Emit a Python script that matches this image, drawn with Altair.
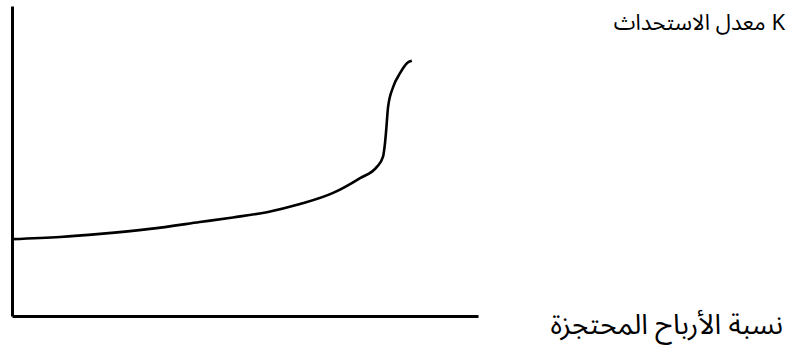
import altair as alt
import pandas as pd

# Growth rate curve: retention ratio (x) vs growth rate K (y), in axis units 0-100
retention = [0, 10.3, 18.9, 29.6, 40.3, 47.4, 54.7, 61.8, 68.9, 74.7, 78.3,
             79.6, 80.0, 80.3, 80.7, 81.8, 83.3, 84.8, 85.8]
growth = [24.8, 25.5, 26.5, 28.1, 30.3, 31.8, 33.5, 36.1, 39.7, 44.5, 48.1,
          51.3, 55.2, 60.0, 67.4, 73.9, 78.4, 81.6, 82.3]

y_label = "معدل الاستحداث K"
x_label = "نسبة الأرباح المحتجزة"

df = pd.DataFrame({"retention": retention, "growth": growth})

W, H = 466, 310
FONT = "Noto Sans Arabic"

x_scale = alt.Scale(domain=[0, 100], nice=False, zero=False)
y_scale = alt.Scale(domain=[0, 100], nice=False, zero=False)

axis_style = dict(labels=False, ticks=False, grid=False, title=None,
                  domainColor="black", domainWidth=3)

curve = alt.Chart(df).mark_line(
    color="black", strokeWidth=2.6, interpolate="monotone"
).encode(
    x=alt.X("retention:Q", scale=x_scale, axis=alt.Axis(**axis_style)),
    y=alt.Y("growth:Q", scale=y_scale, axis=alt.Axis(**axis_style)),
)

label_df = pd.DataFrame({"t": [y_label, x_label]})

top_label = alt.Chart(label_df).transform_filter(
    alt.datum.t == y_label
).mark_text(
    font=FONT, fontSize=22, align="right", baseline="middle", color="black"
).encode(
    text="t:N", x=alt.value(773), y=alt.value(17)
)

bottom_label = alt.Chart(label_df).transform_filter(
    alt.datum.t == x_label
).mark_text(
    font=FONT, fontSize=28, align="right", baseline="middle", color="black"
).encode(
    text="t:N", x=alt.value(771), y=alt.value(320)
)

chart = alt.layer(curve, top_label, bottom_label).properties(
    width=W, height=H,
    autosize=alt.AutoSizeParams(type="none"),
    padding={"left": 12, "top": 6, "right": 312, "bottom": 40},
    background="white",
).configure_view(stroke=None)

chart.save("out.html", embed_options={"renderer": "svg", "actions": False})
